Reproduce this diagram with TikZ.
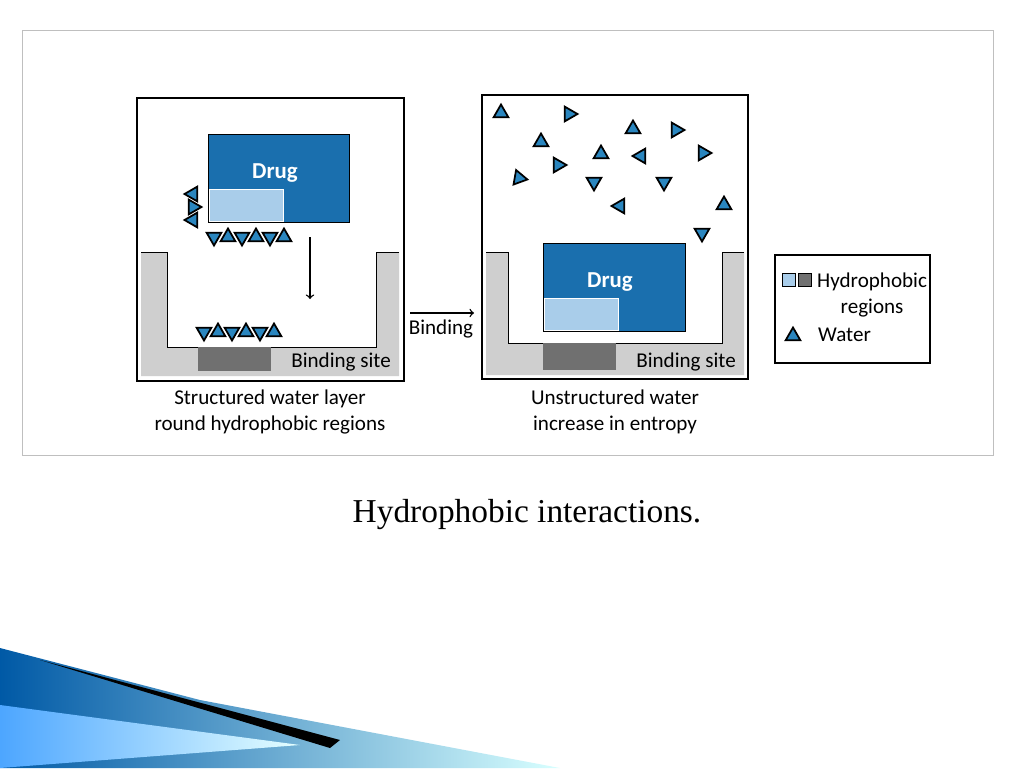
\documentclass[tikz,border=0pt]{standalone}
\usepackage{fontspec}
\setmainfont{Carlito}
\newfontfamily\capfont{Liberation Serif}
\usetikzlibrary{shapes.geometric,positioning}
\definecolor{drugblue}{HTML}{1A6FAE}
\definecolor{hydrolight}{HTML}{A9CDEA}
\definecolor{wallgray}{HTML}{CFCFCF}
\definecolor{sitegray}{HTML}{707070}
\definecolor{watercol}{HTML}{2A86BF}
\begin{document}
\begin{tikzpicture}[x=0.02cm,y=-0.02cm,
  water/.style={regular polygon,regular polygon sides=3,draw=black,fill=watercol,
    line width=1pt,inner sep=0pt,minimum size=0.34cm},
  box/.style={draw=black,line width=1.4pt},
  label/.style={font=\fontsize{12}{14.5}\selectfont,align=center}]
  \useasboundingbox (0,0) rectangle (1024,768);
  % outer frame
  \draw[gray!50,fill=white] (22,30) rectangle (993,455);
  % left panel
  \draw[box] (137,98) rectangle (404,381);
  \fill[wallgray] (141,252) -- (167,252) -- (167,347) -- (376,347) -- (376,252)
    -- (399,252) -- (399,376) -- (141,376) -- cycle;
  \draw (141,252) -- (167,252) -- (167,347) -- (376,347) -- (376,252) -- (399,252);
  \fill[sitegray] (198,347) rectangle (271,371);
  \node[label,anchor=east] (siteL) at (397,362) {Binding site};
  \node[draw=black,fill=drugblue,minimum width=2.82cm,minimum height=1.76cm,anchor=north west] (drugL) at (208,134) {};
  \fill[hydrolight,draw=white] (209,189) rectangle (283,221);
  \node[label,text=white,font=\bfseries\fontsize{13}{16}\selectfont] at (275,173) {Drug};
  \foreach \x/\r [count=\i] in {214/180,228/0,242/180,256/0,270/180,284/0}
    \node[water,rotate=\r] (wa\i) at (\x,237) {};
  \foreach \y/\r [count=\i] in {194/90,207/-90,220/90}
    \node[water,rotate=\r] (wb\i) at (193,\y) {};
  \foreach \x/\r [count=\i] in {204/180,218/0,232/180,246/0,260/180,274/0}
    \node[water,rotate=\r] (wc\i) at (\x,332) {};
  \coordinate (fallA) at (310,237);
  \coordinate (fallB) at (310,299);
  \draw[->,line width=0.8pt] (fallA) -- (fallB);
  \node[label] (capL) at (270,412) {Structured water layer\\round hydrophobic regions};
  % binding arrow
  \coordinate (bindA) at (410,313);
  \coordinate (bindB) at (474,313);
  \draw[->,line width=0.8pt] (bindA) -- (bindB);
  \node[label] (bind) at (441,329) {Binding};
  % right panel
  \draw[box] (482,95) rectangle (748,379);
  \fill[wallgray] (486,252) -- (508,252) -- (508,343) -- (722,343) -- (722,252)
    -- (744,252) -- (744,375) -- (486,375) -- cycle;
  \draw (486,252) -- (508,252) -- (508,343) -- (722,343) -- (722,252) -- (744,252);
  \fill[sitegray] (543,343) rectangle (616,370);
  \node[label,anchor=east] (siteR) at (742,362) {Binding site};
  \node[draw=black,fill=drugblue,minimum width=2.84cm,minimum height=1.76cm,anchor=north west] (drugR) at (543,243) {};
  \fill[hydrolight,draw=white] (544,298) rectangle (618,330);
  \node[label,text=white,font=\bfseries\fontsize{13}{16}\selectfont] at (610,282) {Drug};
  \foreach \x/\y/\r [count=\i] in {501/113/0,569/114/-90,633/129/0,676/130/-90,541/142/0,
      601/154/0,641/156/90,703/153/-90,519/178/20,558/165/-90,594/182/180,664/182/180,
      620/206/90,724/205/0,702/233/180}
    \node[water,rotate=\r] (wf\i) at (\x,\y) {};
  \node[label] (capR) at (615,412) {Unstructured water\\increase in entropy};
  % legend
  \draw[box] (775,255) rectangle (930,363);
  \fill[hydrolight,draw=black] (782,273) rectangle (795,286);
  \fill[sitegray,draw=black] (798,273) rectangle (811,286);
  \node[label,anchor=north west] (legH) at (811,267) {Hydrophobic\\regions};
  \node[water] (legW) at (793,336) {};
  \node[label,anchor=west] (legWt) at (812,335) {Water};
  % caption
  \node[font=\capfont\fontsize{19}{22}\selectfont] (title) at (527,515) {Hydrophobic interactions.};
  % corner swoosh
  \shade[left color=teal!70!blue,right color=cyan!15] (0,648) -- (200,700) -- (560,768) -- (0,768) -- cycle;
  \shade[left color=cyan!50!blue!70,right color=cyan!10] (0,705) -- (300,745) -- (0,768) -- cycle;
  \fill[black] (40,660) -- (340,740) -- (330,748) -- cycle;
\end{tikzpicture}
\end{document}
